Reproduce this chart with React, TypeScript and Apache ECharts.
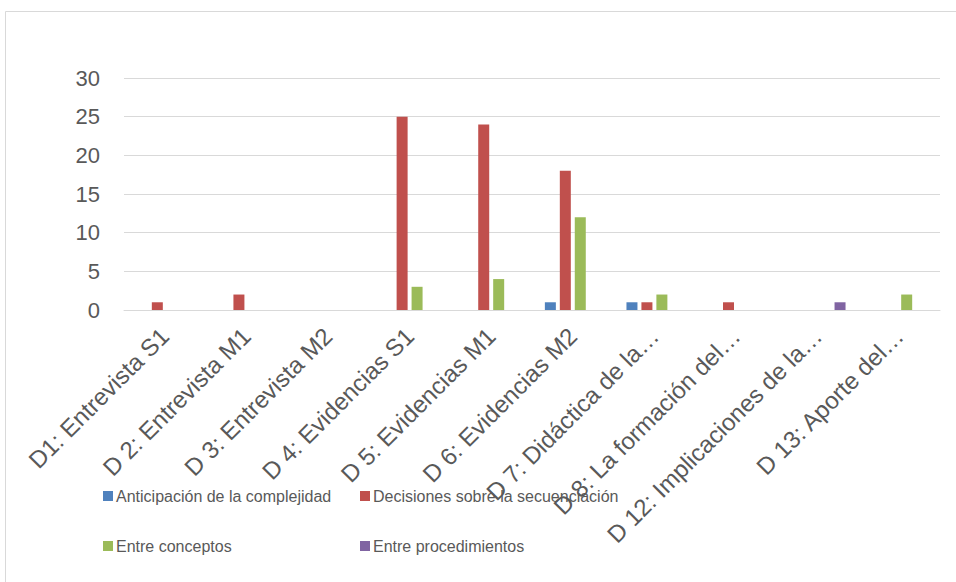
import React, { useEffect, useRef } from "react";
import * as echarts from "echarts";

const categories = [
  "D1: Entrevista S1",
  "D 2: Entrevista M1",
  "D 3: Entrevista M2",
  "D 4: Evidencias S1",
  "D 5: Evidencias M1",
  "D 6: Evidencias M2",
  "D 7: Didáctica de la…",
  "D 8: La formación del…",
  "D 12: Implicaciones de la…",
  "D 13: Aporte del…",
];

const seriesNames = [
  "Anticipación de la complejidad",
  "Decisiones sobre la secuenciación",
  "Entre conceptos",
  "Entre procedimientos",
];

const anticipacion = [null, null, null, null, null, 1, 1, null, null, null];
const decisiones = [1, 2, null, 25, 24, 18, 1, 1, null, null];
const entreConceptos = [null, null, null, 3, 4, 12, 2, null, null, 2];
const entreProcedimientos = [null, null, null, null, null, null, null, null, 1, null];

const yTicks = { min: 0, max: 30, interval: 5 };

const colors = ["#4F81BD", "#C0504D", "#9BBB59", "#8064A2"];

export default function App() {
  const ref = useRef<HTMLDivElement>(null);
  useEffect(() => {
    if (!ref.current) return;
    const chart = echarts.init(ref.current, null, { renderer: "svg" });
    const font = "'Liberation Sans', Arial, Helvetica, sans-serif";
    const dataSets = [anticipacion, decisiones, entreConceptos, entreProcedimientos];
    const legendPos = [
      { left: 103, top: 488 },
      { left: 360, top: 488 },
      { left: 103, top: 538 },
      { left: 360, top: 538 },
    ];
    chart.setOption({
      animation: false,
      color: colors,
      graphic: [
        {
          type: "rect",
          shape: { x: 5.5, y: 11.5, width: 1000, height: 700 },
          style: { fill: "none", stroke: "#D9D9D9", lineWidth: 1 },
          silent: true,
        },
      ],
      legend: seriesNames.map((n, i) => ({
        data: [n],
        left: legendPos[i].left,
        top: legendPos[i].top,
        padding: 0,
        itemWidth: 10,
        itemHeight: 10,
        itemGap: 0,
        icon: "rect",
        textStyle: { fontFamily: font, fontSize: 16, color: "#595959", padding: [0, 0, 0, -2] },
      })),
      grid: { left: 124, right: 16, top: 78, bottom: 272, containLabel: false },
      xAxis: {
        type: "category",
        data: categories,
        axisLine: { lineStyle: { color: "#D9D9D9", width: 1 } },
        axisTick: { show: false },
        axisLabel: {
          interval: 0,
          rotate: 45,
          margin: 22,
          fontFamily: font,
          fontSize: 24,
          color: "#595959",
        },
      },
      yAxis: {
        type: "value",
        min: yTicks.min,
        max: yTicks.max,
        interval: yTicks.interval,
        axisLine: { show: false },
        axisTick: { show: false },
        splitLine: { lineStyle: { color: "#D9D9D9", width: 1 } },
        axisLabel: { margin: 24, fontFamily: font, fontSize: 22, color: "#595959" },
      },
      series: seriesNames.map((n, i) => ({
        name: n,
        type: "bar",
        data: dataSets[i],
        barWidth: 11,
        barGap: "36%",
        itemStyle: { color: colors[i] },
      })),
    });
    return () => chart.dispose();
  }, []);
  return (
    <div
      ref={ref}
      style={{ position: "fixed", left: 0, top: 0, width: 956, height: 582, background: "#fff" }}
    />
  );
}
